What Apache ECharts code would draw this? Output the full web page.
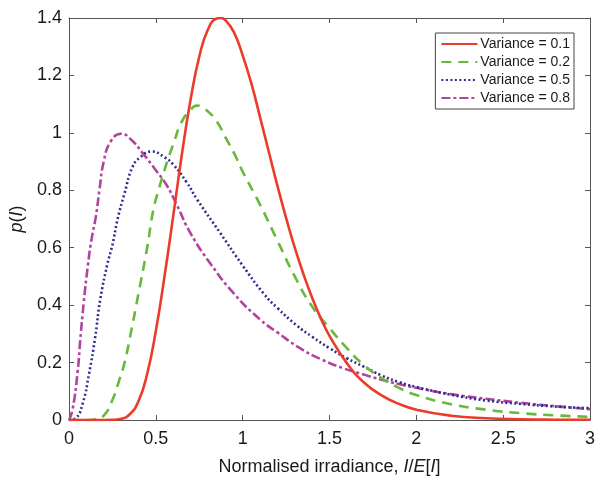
<!DOCTYPE html>
<html>
<head>
<meta charset="utf-8">
<script src="https://cdn.jsdelivr.net/npm/echarts@6/dist/echarts.min.js"></script>
<style>
  html, body { margin: 0; padding: 0; background: #fff; }
  #chart { width: 605px; height: 481px; }
</style>
</head>
<body>
<div id="chart"></div>
<script>
// values
const seriesNames = ['Variance = 0.1', 'Variance = 0.2', 'Variance = 0.5', 'Variance = 0.8'];

const x01 = [0, 0.2, 0.25, 0.3, 0.35, 0.4, 0.45, 0.5, 0.55, 0.6, 0.65, 0.7, 0.75, 0.8, 0.85, 0.875, 0.9, 0.95, 1.0, 1.05, 1.1, 1.15, 1.2, 1.25, 1.3, 1.35, 1.4, 1.45, 1.5, 1.6, 1.7, 1.8, 1.9, 2.0, 2.2, 2.4, 2.6, 2.8, 3.0];
const p01 = [0, 0, 0.0005, 0.004, 0.02, 0.065, 0.16, 0.31, 0.5, 0.71, 0.925, 1.115, 1.265, 1.36, 1.398, 1.4, 1.393, 1.35, 1.27, 1.172, 1.055, 0.935, 0.816, 0.704, 0.6, 0.508, 0.426, 0.354, 0.293, 0.198, 0.13, 0.086, 0.056, 0.036, 0.015, 0.006, 0.0025, 0.001, 0.0004];

const x02 = [0, 0.1, 0.15, 0.2, 0.25, 0.29, 0.32, 0.355, 0.4, 0.45, 0.485, 0.52, 0.56, 0.6, 0.65, 0.7, 0.735, 0.78, 0.85, 0.9, 0.95, 1.0, 1.1, 1.2, 1.3, 1.4, 1.5, 1.6, 1.7, 1.8, 1.9, 2.0, 2.2, 2.4, 2.6, 2.8, 3.0];
const p02 = [0, 0, 0.002, 0.015, 0.07, 0.14, 0.2, 0.3, 0.44, 0.6, 0.73, 0.81, 0.89, 0.96, 1.04, 1.08, 1.095, 1.085, 1.04, 0.985, 0.93, 0.865, 0.75, 0.625, 0.5, 0.395, 0.32, 0.25, 0.19, 0.146, 0.112, 0.087, 0.055, 0.036, 0.024, 0.016, 0.011];

const x05 = [0, 0.04, 0.08, 0.115, 0.15, 0.18, 0.22, 0.25, 0.28, 0.32, 0.365, 0.41, 0.476, 0.55, 0.6, 0.675, 0.74, 0.87, 1.0, 1.12, 1.2, 1.31, 1.4, 1.5, 1.6, 1.7, 1.8, 1.9, 2.0, 2.2, 2.4, 2.6, 2.8, 3.0];
const p05 = [0, 0.007, 0.06, 0.16, 0.285, 0.42, 0.54, 0.61, 0.7, 0.79, 0.88, 0.915, 0.935, 0.915, 0.89, 0.83, 0.766, 0.652, 0.538, 0.441, 0.39, 0.33, 0.29, 0.25, 0.215, 0.185, 0.155, 0.132, 0.115, 0.088, 0.068, 0.056, 0.047, 0.041];

const x08 = [0, 0.02, 0.05, 0.065, 0.085, 0.11, 0.13, 0.155, 0.175, 0.2, 0.24, 0.3, 0.36, 0.43, 0.5, 0.56, 0.62, 0.7, 0.82, 0.95, 1.1, 1.2, 1.33, 1.45, 1.58, 1.7, 1.8, 1.9, 2.0, 2.2, 2.4, 2.6, 2.8, 3.0];
const p08 = [0, 0.035, 0.17, 0.28, 0.41, 0.545, 0.63, 0.71, 0.8, 0.9, 0.97, 0.997, 0.975, 0.925, 0.87, 0.82, 0.75, 0.65, 0.54, 0.44, 0.35, 0.305, 0.25, 0.212, 0.18, 0.158, 0.14, 0.125, 0.112, 0.09, 0.074, 0.06, 0.048, 0.038];

const xTicks = [0, 0.5, 1, 1.5, 2, 2.5, 3];
const yTicks = [0, 0.2, 0.4, 0.6, 0.8, 1, 1.2, 1.4];

const colors = ['#EA3B2B', '#66B93C', '#2E2B8E', '#B0449E'];
const dashes = ['solid', [10, 7], [2, 2.5], [9, 3, 3, 3]];

const FONT = '"Liberation Sans", Arial, sans-serif';

const pair = (xs, ys) => xs.map((x, i) => [x, ys[i]]);
const allData = [pair(x01, p01), pair(x02, p02), pair(x05, p05), pair(x08, p08)];

const chart = echarts.init(document.getElementById('chart'), null, { renderer: 'canvas' });

const axisLine = { show: true, onZero: false, lineStyle: { color: '#555', width: 1 } };
const tick = { show: true, inside: true, length: 5, lineStyle: { color: '#555' } };

const option = {
  animation: false,
  backgroundColor: '#fff',
  grid: { left: 69, right: 15, top: 18, bottom: 54 },
  legend: {
    data: seriesNames,
    orient: 'vertical',
    right: 31,
    top: 33,
    itemWidth: 36,
    itemHeight: 12,
    itemGap: 4,
    padding: [4, 4, 4, 5],
    borderColor: '#444',
    borderWidth: 1,
    itemStyle: { opacity: 0 },
    textStyle: { fontFamily: FONT, fontSize: 14, color: '#1a1a1a', padding: [0, 0, 0, -2] }
  },
  xAxis: [
    {
      type: 'value', min: 0, max: 3, interval: 0.5,
      axisLine: axisLine, axisTick: tick, splitLine: { show: false },
      axisLabel: { fontFamily: FONT, fontSize: 18, color: '#1a1a1a', margin: 10,
        formatter: v => xTicks.includes(v) ? String(v) : '' },
      name: '{n|Normalised irradiance, }{i|I}{n|/}{i|E}{n|[}{i|I}{n|]}',
      nameLocation: 'middle', nameGap: 38,
      nameTextStyle: { rich: {
        n: { fontFamily: FONT, fontSize: 18, color: '#1a1a1a' },
        i: { fontFamily: FONT, fontSize: 18, color: '#1a1a1a', fontStyle: 'italic' }
      } }
    },
    {
      type: 'value', position: 'top', min: 0, max: 3, interval: 0.5,
      axisLine: axisLine, axisTick: tick, axisLabel: { show: false }, splitLine: { show: false }
    }
  ],
  yAxis: [
    {
      type: 'value', min: 0, max: 1.4, interval: 0.2,
      axisLine: axisLine, axisTick: tick, splitLine: { show: false },
      axisLabel: { fontFamily: FONT, fontSize: 18, color: '#1a1a1a', margin: 7,
        formatter: v => String(yTicks.find(t => Math.abs(t - v) < 1e-6) ?? v) },
      name: '{i|p}{n|(}{i|I}{n|)}',
      nameLocation: 'middle', nameGap: 40, nameRotate: 90,
      nameTextStyle: { rich: {
        n: { fontFamily: FONT, fontSize: 18, color: '#1a1a1a' },
        i: { fontFamily: FONT, fontSize: 18, color: '#1a1a1a', fontStyle: 'italic' }
      } }
    },
    {
      type: 'value', position: 'right', min: 0, max: 1.4, interval: 0.2,
      axisLine: axisLine, axisTick: tick, axisLabel: { show: false }, splitLine: { show: false }
    }
  ],
  series: seriesNames.map((name, i) => ({
    name: name,
    type: 'line',
    data: allData[i],
    smooth: 0.5,
    symbol: 'none',
    clip: true,
    z: 10 - i,
    lineStyle: { color: colors[i], width: 2.6, type: dashes[i] },
    itemStyle: { color: colors[i] }
  }))
};

chart.setOption(option);
</script>
</body>
</html>
